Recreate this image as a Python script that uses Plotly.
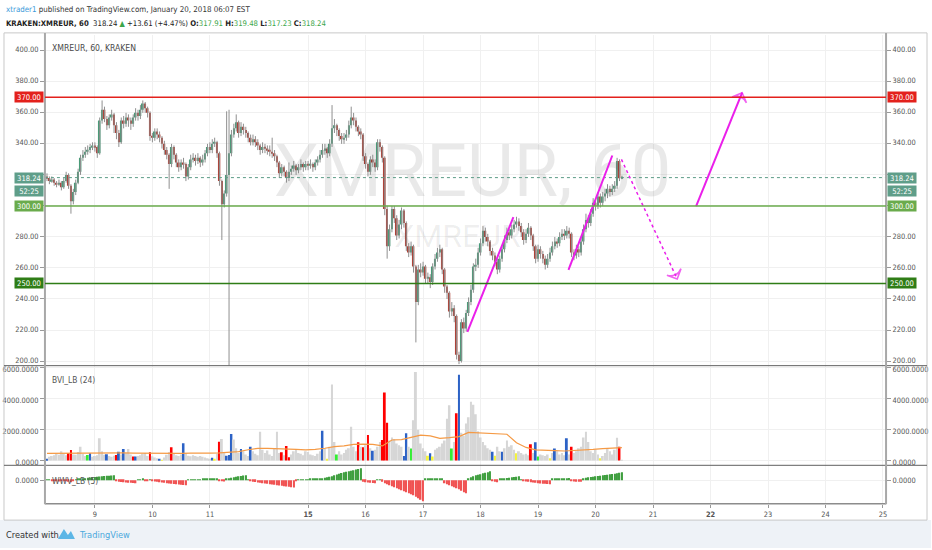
import plotly.graph_objects as go

# ---------------- data (hourly bars) ----------------
closes = [
    318, 316, 317, 315, 314, 315, 312, 316, 320, 313,
    303, 309, 315, 322, 331, 333, 335, 336, 338, 339,
    338, 334, 355, 362, 356, 352, 357, 359, 352, 347,
    341, 355, 353, 357, 355, 353, 357, 360, 358, 362,
    366, 363, 360, 345, 344, 348, 346, 344, 340, 336,
    333, 327, 338, 333, 328, 325, 328, 327, 319, 325,
    330, 331, 329, 331, 328, 330, 334, 338, 336, 340,
    341, 334, 316, 301, 308, 320, 334, 346, 350, 354,
    347, 351, 349, 347, 344, 341, 343, 341, 339, 336,
    338, 337, 336, 335, 334, 332, 328, 321, 325, 322,
    318, 322, 324, 326, 323, 325, 327, 325, 327, 326,
    327, 325, 328, 330, 333, 336, 337, 334, 340, 350,
    352, 349, 345, 343, 344, 346, 352, 357, 355, 351,
    348, 346, 332, 327, 322, 330, 328, 325, 341, 338,
    331, 298, 274, 285, 298, 292, 281, 288, 297, 289,
    274, 270, 274, 261, 238, 259, 257, 261, 253, 254,
    251, 261, 266, 270, 272, 259, 248, 244, 232, 234,
    229, 204, 200, 225, 221, 231, 238, 246, 261, 262,
    270, 276, 284, 280, 277, 271, 268, 264, 259, 266,
    272, 278, 283, 281, 285, 288, 290, 287, 283, 278,
    282, 286, 281, 274, 266, 272, 269, 266, 262, 266,
    270, 274, 277, 276, 280, 282, 281, 284, 282, 270,
    268, 272, 270, 277, 285, 291, 289, 295, 302, 300,
    306, 302, 306, 308, 311, 309, 311, 313, 329, 317.91,
    318.24]
highs = [
    321, 319, 319, 318, 316, 317, 316, 318, 322, 321,
    314, 311, 317, 324, 333, 336, 338, 339, 340, 341,
    341, 339, 357, 368, 364, 358, 359, 362, 360, 354,
    349, 357, 358, 360, 359, 357, 359, 363, 362, 365,
    368, 367, 364, 361, 347, 350, 350, 348, 345, 342,
    338, 334, 340, 339, 334, 330, 330, 331, 328, 327,
    333, 334, 333, 334, 332, 333, 336, 340, 341, 343,
    344, 342, 335, 317, 310, 361, 362, 349, 353, 359,
    355, 354, 353, 351, 348, 346, 346, 345, 343, 340,
    341, 340, 339, 339, 344, 336, 333, 329, 327, 326,
    323, 328, 326, 329, 327, 327, 330, 328, 329, 329,
    330, 328, 330, 332, 336, 340, 340, 338, 343, 365,
    356, 353, 350, 347, 347, 349, 355, 364, 360, 357,
    352, 350, 347, 334, 328, 332, 333, 330, 343, 343,
    339, 332, 300, 288, 300, 300, 294, 291, 299, 298,
    290, 276, 277, 275, 262, 262, 263, 264, 262, 257,
    256, 263, 269, 273, 275, 273, 260, 249, 245, 238,
    236, 230, 206, 227, 228, 233, 241, 249, 263, 266,
    273, 279, 287, 286, 282, 278, 273, 270, 266, 268,
    274, 281, 286, 285, 288, 291, 293, 292, 289, 285,
    285, 289, 287, 282, 275, 275, 274, 271, 268, 269,
    273, 277, 280, 279, 283, 285, 285, 287, 286, 283,
    272, 275, 274, 280, 288, 295, 294, 298, 305, 304,
    309, 308, 309, 311, 314, 313, 314, 316, 331, 330,
    319.48]
lows = [
    316, 314, 315, 313, 312, 313, 310, 311, 315, 311,
    295, 301, 307, 314, 320, 329, 331, 333, 334, 336,
    335, 331, 333, 353, 354, 349, 350, 355, 347, 343,
    338, 340, 350, 351, 351, 349, 351, 355, 355, 356,
    360, 360, 357, 342, 341, 342, 343, 341, 337, 333,
    330, 311, 325, 330, 325, 322, 323, 324, 316, 317,
    323, 328, 326, 327, 325, 326, 328, 332, 334, 334,
    338, 331, 313, 278, 299, 306, 150, 332, 344, 348,
    344, 345, 346, 344, 341, 339, 339, 338, 336, 333,
    334, 334, 333, 332, 331, 329, 325, 318, 319, 319,
    315, 316, 320, 322, 320, 321, 323, 322, 323, 323,
    324, 322, 323, 326, 328, 331, 333, 331, 332, 338,
    347, 345, 342, 340, 340, 342, 344, 350, 352, 348,
    345, 343, 329, 324, 319, 320, 325, 322, 323, 335,
    328, 294, 266, 271, 283, 289, 278, 279, 285, 286,
    271, 267, 268, 257, 212, 236, 254, 255, 250, 250,
    247, 249, 259, 264, 267, 256, 244, 240, 228, 229,
    225, 201, 198, 199, 218, 219, 229, 236, 244, 258,
    260, 268, 274, 277, 274, 268, 265, 261, 256, 257,
    264, 270, 276, 278, 279, 283, 286, 284, 280, 275,
    276, 280, 278, 271, 263, 264, 266, 263, 259, 260,
    264, 268, 272, 273, 274, 278, 278, 279, 279, 267,
    265, 266, 267, 268, 275, 283, 286, 287, 293, 297,
    298, 299, 300, 303, 305, 306, 307, 309, 311, 316,
    317.23]
first_open = 319
opens = [first_open] + closes[:-1]

volumes = [
    110, 250, 300, 350, 420, 380, 600, 450, 350, 500,
    690, 400, 380, 560, 900, 420, 300, 360, 470, 250,
    300, 350, 1440, 600, 380, 410, 300, 250, 320, 360,
    580, 400, 750, 500, 750, 400, 260, 260, 300, 350,
    450, 500, 300, 540, 280, 200, 150, 90, 60, 200,
    380, 550, 860, 450, 350, 300, 400, 1120, 500, 320,
    280, 350, 300, 250, 300, 250, 200, 150, 120, 190,
    100, 450, 1220, 1390, 500, 320, 360, 1720, 1360, 800,
    500, 750, 600, 400, 300, 900, 600, 450, 350, 1860,
    700, 500, 650, 400, 300, 750, 1860, 500, 540, 350,
    940, 220, 400, 600, 700, 500, 450, 350, 600, 550,
    400, 350, 300, 450, 600, 1930, 800, 110, 900, 4910,
    1200, 400, 600, 400, 500, 700, 800, 2190, 900, 600,
    1180, 900, 860, 1000, 1650, 800, 640, 700, 900, 1200,
    1330, 4400, 2440, 1300, 1500, 1400, 1100, 1000, 900, 300,
    1760, 900, 790, 2600, 5720, 2000, 1100, 800, 600, 320,
    470, 260, 700, 800, 900, 1100, 1300, 2700, 3580, 790,
    1200, 3050, 5550, 1800, 1600, 2400, 2800, 3800, 3600, 3000,
    1900, 1500, 1200, 1000, 800, 700, 580, 320, 900, 600,
    580, 800, 1300, 900, 1000, 700, 470, 600, 500, 400,
    450, 350, 1050, 500, 1180, 260, 400, 350, 300, 400,
    150, 500, 790, 600, 400, 500, 350, 1440, 400, 900,
    500, 600, 800, 900, 1500, 1860, 1200, 600, 500, 700,
    400, 150, 300, 500, 800, 600, 400, 700, 1480, 900,
    60]
# volume bar class per bar: g gray, r red, b blue, G green, y yellow
volume_kind = ("bggggggggr" "rggggggGbg" "gggggbgggr" "bgbgggrbgg" "gggrgggbyg"
               "ggrggggbgg" "gggggggggb" "ygrggbbbgg" "gbgggbgggg" "ggggggggrg"
               "rrgggggggg" "gggggbgygg" "gGgggggggg" "rgrgrgbggg" "rrrggggggb"
               "bgGggggggy" "bygggggggG" "grbggggggg" "ggggggbygg" "bgggggyggg"
               "ggrgbGgggg" "ygbggggbgr" "gggggggggg" "gygggggggr" "g")
# 24-bar volume average, read every 4 bars
ma_bars = list(range(0, 241, 4))
ma_values = [470, 480, 470, 460, 470, 480, 500, 510, 500, 490,
             480, 470, 470, 460, 470, 480, 470, 480, 500, 520,
             580, 700, 790, 790, 780, 760, 720, 690, 720, 800,
             900, 950, 1050, 1060, 1050, 950, 1330, 1350, 1500, 1650,
             1600, 1440, 1480, 1550, 1820, 1800, 1780, 1760, 1700, 1150,
             850, 690, 650, 640, 620, 640, 680, 720, 780, 820,
             840]
wvv = [0.5, 0.8, -0.5, -0.8, -1, -1.2, -0.5, -0.8, -1, -1.5,
       -2, -1, 0.5, 1, 1.5, 1.8, 2, 2.5, 2.8, 3, 3.2,
       3.5, 3.8, 4, 4.2, 4.5, 4.6, 4.8, 5,
       -1, -1.5, -1.8, -2, -2.2, -2.5, -2.6, -2.8, -3,
       0.5, 0.8, 1, -0.5, -0.8, 0.5,
       -1, -1.3, -1.6, -2, -2.3, -2.6, -3, -3.2, -3.5, -3.8, -4, -4.2, -4.5, -4.8, -5,
       0.5, 0.6, 0.7, 0.8, 0.8, 0.9, 1, 1, 1.1, 1.2, 1.2, 1.3, 1.3,
       -0.8, -1, -1.2,
       1.5, 2, 2.5, 3, 3.5, 4, 4.3, 4.7, 5,
       0.3,
       -1, -1.4, -1.8, -2.2, -2.6, -3, -3.3, -3.6, -4, -4.3, -4.6, -5, -5.3, -5.6, -6, -6.3, -6.6, -7, -7.2,
       -0.3,
       0.5, 0.6, 0.7, 0.8, 0.9, 1, 1,
       1, 1.3, 1.6, 2, 2.5, 3, 3.5, 4, 5, 5.8, 6.5, 7.2, 8, 8.5, 9, 9.5, 10, 10.7, 11.3, 12,
       -1.5, -2, -2.3, -2.6, -2.8, -3,
       0.6, 0.8,
       -1.5, -3, -4, -5, -6, -7, -8, -9, -10, -11, -12, -13, -14, -15, -16.5, -18, -19.5, -21,
       1, 1.2, 1.3, 1.5, 1.6, 1.8, 2, 2,
       -3, -4, -5, -6, -7, -8, -9, -10.5, -12, -13,
       2, 3, 4, 5, 5.5, 6, 7, 7.5, 8, 9,
       -1, -1.5, -2,
       1, 1.5, 2, 2.3, 2.6, 3, 3.3, 3.6, 4,
       0.3,
       -1, -1.3, -1.6, -2, -2.3, -2.6, -3, -3.2, -3.4, -3.6, -3.8, -4,
       1, 1.2, 1.4, 1.6, 1.8, 2, 2.1, 2.2,
       -1, -1.2, -1.4, -1.5, -1.6,
       2, 2.5, 3, 3.3, 3.6, 4, 4.3, 4.6, 5, 5.3, 5.6, 6, 6.3, 6.6, 7, 7.5, 8]

day_tick_bars = [20, 44, 68, 109, 133, 157, 181, 205, 229, 253, 277, 301, 325, 349]
day_tick_labels = ["9", "10", "11", "<b>15</b>", "16", "17", "18", "19", "20", "21",
                   "<b>22</b>", "23", "24", "25"]
price_ticks = [200, 220, 240, 260, 280, 300, 320, 340, 360, 380, 400]
# labels at 300 and 320 are hidden behind the price boxes in the reference
price_tick_labels = ["200.00", "220.00", "240.00", "260.00", "280.00", "", "", "340.00",
                     "360.00", "380.00", "400.00"]
volume_ticks = [0, 2000, 4000, 6000]

levels = [370.0, 300.0, 250.0]
level_colors = ["#e3211c", "#6aab4c", "#2f7d16"]
last_price = 318.24
countdown = "52:25"

# user drawings (bar index, price)
trend1_bars, trend1_prices = [175.5, 194.7], [218.8, 292.7]
trend2_bars, trend2_prices = [217.7, 236.0], [258.7, 332.5]
down_bars, down_prices = [239.8, 263.1], [330.0, 252.9]
up_bars, up_prices = [271.0, 290.2], [299.8, 373.0]

# ---------------- geometry helpers ----------------
W, H = 932, 550
def px(x): return x / W
def py(y): return 1 - y / H
def bar_at(X): return (X - 47.04) / 2.398
def price_at(Y): return 400 - (Y - 51) / 1.5567
def vol_at(Y): return (462.3 - Y) / 0.01555

NARROW = "Liberation Sans Narrow, DejaVu Sans Condensed, Liberation Sans, sans-serif"
WM = "Roboto, Liberation Sans, sans-serif"
UP, DOWN, WICK = "#4b9a78", "#ad4238", "#8f8f8f"
MAG = "#ea1fea"
TS = 7.4  # tick font size

n = len(closes)
idx = list(range(n))

fig = go.Figure()

# watermark (behind candles)
fig.add_trace(go.Scatter(x=[bar_at(473)], y=[price_at(179)], mode="text", text=["XMREUR, 60"],
                         textfont=dict(size=72, color="rgba(0,0,0,0.085)", family=WM),
                         hoverinfo="skip", xaxis="x", yaxis="y"))
fig.add_trace(go.Scatter(x=[bar_at(458)], y=[price_at(240)], mode="text", text=["XMREUR"],
                         textfont=dict(size=32, color="rgba(0,0,0,0.07)", family=WM),
                         hoverinfo="skip", xaxis="x", yaxis="y"))

# wicks
wx, wy = [], []
for i in idx:
    wx += [i, i, None]
    wy += [lows[i], highs[i], None]
fig.add_trace(go.Scatter(x=wx, y=wy, mode="lines", line=dict(color=WICK, width=1),
                         hoverinfo="skip", xaxis="x", yaxis="y"))
# bodies
bases = [min(o, c) for o, c in zip(opens, closes)]
hts = [max(abs(c - o), 0.6) for o, c in zip(opens, closes)]
bcol = [UP if c >= o else DOWN for o, c in zip(opens, closes)]
fig.add_trace(go.Bar(x=idx, y=hts, base=bases, width=0.72, marker=dict(color=bcol, line=dict(width=0)),
                     xaxis="x", yaxis="y", hoverinfo="skip"))

# last price dotted line
fig.add_trace(go.Scatter(x=[bar_at(45), bar_at(887)], y=[last_price, last_price], mode="lines",
                         line=dict(color="#5c9c86", width=1, dash="dot"), hoverinfo="skip",
                         xaxis="x", yaxis="y"))

# drawings
for bx, pyv, dash, arrow in [(trend1_bars, trend1_prices, "solid", False),
                             (trend2_bars, trend2_prices, "solid", False),
                             (down_bars, down_prices, "dot", True),
                             (up_bars, up_prices, "solid", True)]:
    fig.add_trace(go.Scatter(x=bx, y=pyv, mode="lines+markers" if arrow else "lines",
                             line=dict(color=MAG, width=2 if dash == "solid" else 1.5, dash=dash),
                             marker=dict(symbol="arrow-wide-open", size=[0, 11], angleref="previous",
                                         color=MAG, line=dict(color=MAG, width=1.6)),
                             hoverinfo="skip", xaxis="x", yaxis="y"))

# volume
kind_color = {"g": "#d6d6d6", "r": "#ff0000", "b": "#2c62c6", "G": "#33ee33", "y": "#f4f43a"}
vcol = [kind_color[k] for k in volume_kind]
fig.add_trace(go.Bar(x=list(range(len(volumes))), y=volumes, width=0.8,
                     marker=dict(color=vcol, line=dict(width=0)), xaxis="x2", yaxis="y2", hoverinfo="skip"))
fig.add_trace(go.Scatter(x=ma_bars, y=ma_values, mode="lines", line=dict(color="#f59a45", width=1.2),
                         xaxis="x2", yaxis="y2", hoverinfo="skip"))

# WVV histogram
wcol = ["#3f9f3f" if v >= 0 else "#f05252" for v in wvv]
fig.add_trace(go.Bar(x=list(range(len(wvv))), y=wvv, width=0.62,
                     marker=dict(color=wcol, line=dict(width=0)), xaxis="x3", yaxis="y3", hoverinfo="skip"))

# invisible traces for right-hand axes
for ya, yv in [("y4", 300), ("y5", 0), ("y6", 0)]:
    fig.add_trace(go.Scatter(x=[0], y=[yv], mode="markers", marker=dict(opacity=0),
                             xaxis="x", yaxis=ya, hoverinfo="skip"))

xr = [bar_at(45), bar_at(887)]
xdom = [px(45), px(887)]
tickfont = dict(size=TS, color="#555", family=NARROW)
grid = "#f0f0f0"
common_x = dict(domain=xdom, range=xr, tickvals=day_tick_bars, ticktext=day_tick_labels,
                showgrid=True, gridcolor=grid, zeroline=False, showline=False, tickfont=tickfont)
price_axis = dict(range=[price_at(367), price_at(35)], tickvals=price_ticks, ticktext=price_tick_labels,
                  ticks="outside", ticklen=4, tickcolor="#999", zeroline=False, tickfont=tickfont,
                  anchor="x", ticklabelshift=-1)
vol_axis = dict(range=[vol_at(467), vol_at(367)], tickvals=volume_ticks, tickformat=".4f",
                ticks="outside", ticklen=4, tickcolor="#999", zeroline=False, tickfont=tickfont,
                anchor="x2", ticklabelshift=2)

fig.update_layout(
    width=W, height=H, margin=dict(l=0, r=0, t=0, b=0), showlegend=False,
    paper_bgcolor="white", plot_bgcolor="white", barmode="overlay", hovermode=False,
    xaxis=dict(**common_x, anchor="y", showticklabels=False),
    xaxis2=dict(**common_x, anchor="y2", matches="x", showticklabels=False),
    xaxis3=dict(**common_x, anchor="y3", matches="x", showticklabels=True, ticks="outside",
                ticklen=3, tickcolor="#999"),
    yaxis=dict(**price_axis, domain=[py(367), py(35)], side="left", showgrid=True, gridcolor=grid),
    yaxis4=dict(**price_axis, overlaying="y", side="right", showgrid=False),
    yaxis2=dict(**vol_axis, domain=[py(467), py(367)], side="left", showgrid=True, gridcolor=grid),
    yaxis5=dict(**vol_axis, overlaying="y2", side="right", showgrid=False),
    yaxis3=dict(domain=[py(505.7), py(467)], range=[-23.7, 15], tickvals=[0], tickformat=".4f",
                side="left", ticks="outside", ticklen=4, tickcolor="#999", showgrid=True,
                gridcolor=grid, zeroline=False, tickfont=tickfont, anchor="x3"),
    yaxis6=dict(overlaying="y3", side="right", range=[-23.7, 15], tickvals=[0], tickformat=".4f",
                ticks="outside", ticklen=4, tickcolor="#999", showgrid=False, zeroline=False,
                tickfont=tickfont, anchor="x3"),
)

shapes = []
# footer background and frame
shapes.append(dict(type="rect", xref="paper", yref="paper", x0=0, x1=1, y0=0, y1=py(522),
                   fillcolor="#eef2f7", line=dict(width=0), layer="below"))
shapes.append(dict(type="rect", xref="paper", yref="paper", x0=px(4), x1=px(928), y0=py(522), y1=py(33),
                   line=dict(color="#c8c8c8", width=1), layer="above"))
for yy in (367, 467):
    shapes.append(dict(type="line", xref="paper", yref="paper", x0=px(4), x1=px(928), y0=py(yy), y1=py(yy),
                       line=dict(color="#606060", width=1)))
shapes.append(dict(type="line", xref="paper", yref="paper", x0=px(45), x1=px(887), y0=py(505.7), y1=py(505.7),
                   line=dict(color="#8c8c8c", width=1.5)))
for xx in (45, 887):
    shapes.append(dict(type="line", xref="paper", yref="paper", x0=px(xx), x1=px(xx), y0=py(506), y1=py(33),
                       line=dict(color="#a8a8a8", width=2)))
# horizontal levels
for lv, lc in zip(levels, level_colors):
    shapes.append(dict(type="line", xref="x", yref="y", x0=xr[0], x1=xr[1], y0=lv, y1=lv,
                       line=dict(color=lc, width=1.5)))
# TradingView logo (simple)
shapes.append(dict(type="path", xref="paper", yref="paper",
                   path=f"M {px(58)} {py(541)} L {px(64)} {py(531)} L {px(68)} {py(537)} L {px(71)} {py(533)} L {px(75)} {py(541)} Z",
                   fillcolor="#5cb6e6", line=dict(width=0)))
fig.update_layout(shapes=shapes)

ann = []
def box(text, y, color, side):
    common = dict(y=y, xref="paper", yref="y", yanchor="middle", text=text, showarrow=False,
                  bgcolor=color, font=dict(size=7.6, color="white", family=NARROW),
                  borderpad=0, height=10, width=28, align="center")
    if side == "left":
        return dict(x=px(44.5), xanchor="right", **common)
    return dict(x=px(888), xanchor="left", **common)

for side in ("left", "right"):
    for lv, lc in zip(levels, level_colors):
        ann.append(box(f"{lv:.2f}", lv, lc, side))
    ann.append(box(f"{last_price:.2f}", last_price, "#5f9e89", side))
    ann.append(box(countdown, price_at(191.5), "#5f9e89", side))

hdr = dict(xref="paper", yref="paper", xanchor="left", yanchor="middle", showarrow=False)
ann.append(dict(**hdr, x=px(4), y=py(10),
                text="<span style='color:#3a9ad9'>xtrader1</span> published on TradingView.com, January 20, 2018 06:07 EST",
                font=dict(size=7.9, color="#333", family=NARROW)))
G = "#3ca64a"
ann.append(dict(**hdr, x=px(4), y=py(23.5),
                text=(f"<b>KRAKEN:XMREUR, 60</b>  318.24 <span style='color:{G}'>▲</span> +13.61 (+4.47%) "
                      f"<b>O:</b><span style='color:{G}'>317.91</span> <b>H:</b><span style='color:{G}'>319.48</span> "
                      f"<b>L:</b><span style='color:{G}'>317.23</span> <b>C:</b><span style='color:{G}'>318.24</span>"),
                font=dict(size=7.7, color="#222", family=NARROW)))
ann.append(dict(**hdr, x=px(50), y=py(48.5), text="XMREUR, 60, KRAKEN", font=dict(size=8.6, color="#4a4a4a", family=NARROW)))
ann.append(dict(**hdr, x=px(50), y=py(381.5), text="BVI_LB (24)", font=dict(size=8.4, color="#555", family=NARROW)))
ann.append(dict(**hdr, x=px(50), y=py(482.5), text="WWV_LB (5)", font=dict(size=8.4, color="#555", family=NARROW)))
ann.append(dict(**hdr, x=px(4), y=py(536), text="Created with", font=dict(size=9.2, color="#333", family=NARROW)))
ann.append(dict(**hdr, x=px(77), y=py(536), text="TradingView", font=dict(size=9.2, color="#4aa8dc", family=NARROW)))
fig.update_layout(annotations=ann)

fig.write_html("out.html", config={"displayModeBar": False},
               post_script="document.body.style.margin='0';document.body.style.overflow='hidden';")
